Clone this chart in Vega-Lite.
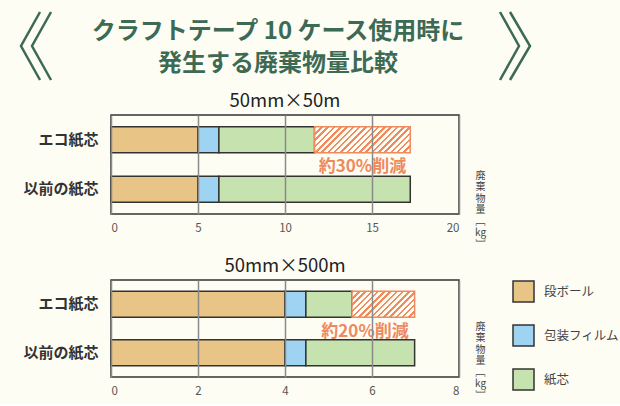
{
  "$schema": "https://vega.github.io/schema/vega-lite/v6.json",
  "background": "#fdfdf4",
  "padding": {"left": 16, "top": 5, "right": 3, "bottom": 3},
  "config": {
    "font": "Noto Sans CJK JP",
    "view": {"stroke": null},
    "axis": {"labelFont": "Noto Sans CJK JP", "titleFont": "Noto Sans CJK JP"},
    "legend": {"labelFont": "Noto Sans CJK JP"}
  },
  "spacing": 5,
  "resolve": {"scale": {"x": "independent", "y": "independent", "color": "shared"}},
  "vconcat": [
    {
      "width": 430,
      "height": 76,
      "view": {"stroke": null},
      "layer": [
        {
          "data": {"values": [
            {"g": "L1", "o": 1, "x": -0.1651, "y": 0.9079}, {"g": "L1", "o": 2, "x": -0.2093, "y": 0.4605}, {"g": "L1", "o": 3, "x": -0.1651, "y": 0.0132},
            {"g": "L2", "o": 1, "x": -0.1395, "y": 0.9079}, {"g": "L2", "o": 2, "x": -0.1837, "y": 0.4605}, {"g": "L2", "o": 3, "x": -0.1395, "y": 0.0132},
            {"g": "R1", "o": 1, "x": 0.9047, "y": 0.9079}, {"g": "R1", "o": 2, "x": 0.9488, "y": 0.4605}, {"g": "R1", "o": 3, "x": 0.9047, "y": 0.0132},
            {"g": "R2", "o": 1, "x": 0.9279, "y": 0.9079}, {"g": "R2", "o": 2, "x": 0.9744, "y": 0.4605}, {"g": "R2", "o": 3, "x": 0.9279, "y": 0.0132}
          ]},
          "mark": {"type": "line", "strokeWidth": 2.5, "color": "#3d6a54", "strokeJoin": "miter"},
          "encoding": {
            "x": {"field": "x", "type": "quantitative", "scale": {"domain": [0, 1], "nice": false, "zero": false}, "axis": null},
            "y": {"field": "y", "type": "quantitative", "scale": {"domain": [0, 1], "nice": false, "zero": false}, "axis": null},
            "detail": {"field": "g"},
            "order": {"field": "o", "type": "quantitative"}
          }
        },
        {
          "data": {"values": [{"x": 0.3884, "y": 0.6447, "t": ["クラフトテープ 10 ケース使用時に", "発生する廃棄物量比較"]}]},
          "mark": {"type": "text", "align": "center", "baseline": "middle", "fontSize": 24, "fontWeight": "bold", "lineHeight": 32, "color": "#3d6a54"},
          "encoding": {
            "x": {"field": "x", "type": "quantitative", "scale": {"domain": [0, 1], "nice": false, "zero": false}, "axis": null},
            "y": {"field": "y", "type": "quantitative", "scale": {"domain": [0, 1], "nice": false, "zero": false}, "axis": null},
            "text": {"field": "t"}
          }
        }
      ]
    },
    {
      "width": 348,
      "height": 99,
      "view": {"stroke": "#333333", "strokeWidth": 1.5},
      "title": {"text": "50mm×50m", "fontSize": 18.5, "fontWeight": "normal", "color": "#222222", "offset": 5},
      "layer": [
        {
          "data": {"values": [
            {"type": "エコ紙芯", "part": "段ボール", "seq": 1, "value": 5.0},
            {"type": "エコ紙芯", "part": "包装フィルム", "seq": 2, "value": 1.2},
            {"type": "エコ紙芯", "part": "紙芯", "seq": 3, "value": 5.5},
            {"type": "以前の紙芯", "part": "段ボール", "seq": 1, "value": 5.0},
            {"type": "以前の紙芯", "part": "包装フィルム", "seq": 2, "value": 1.2},
            {"type": "以前の紙芯", "part": "紙芯", "seq": 3, "value": 11.0}
          ]},
          "mark": {"type": "bar", "height": 26, "stroke": "#333333", "strokeWidth": 1.5},
          "encoding": {
            "y": {"field": "type", "type": "nominal", "sort": ["エコ紙芯", "以前の紙芯"], "scale": {"type": "band", "paddingInner": 0, "paddingOuter": 0},
              "axis": {"title": null, "ticks": false, "domain": false, "labelFontSize": 15, "labelFontWeight": "bold", "labelColor": "#333333", "labelPadding": 13}},
            "x": {"field": "value", "type": "quantitative", "stack": "zero", "scale": {"domain": [0, 20], "nice": false},
              "axis": {"values": [0, 5, 10, 15, 20], "grid": true, "gridColor": "#8a8a8a", "gridWidth": 1.5, "ticks": false, "domain": false, "labelColor": "#555555", "labelFontSize": 11.5, "labelPadding": 8, "zindex": 1,
                "title": ["廃", "棄", "物", "量", "﹇", "kg", "﹈"], "titleFontSize": 10, "titleLineHeight": 11.5, "titleFontWeight": "normal", "titleColor": "#444444", "titleAngle": 0, "titleAlign": "center", "titleBaseline": "top", "titleX": 369, "titleY": -44}},
            "color": {"field": "part", "type": "nominal", "scale": {"domain": ["段ボール", "包装フィルム", "紙芯"], "range": ["#e8c486", "#9fd3f2", "#c6e2ae"]},
              "legend": {"orient": "none", "legendX": 401, "legendY": 275, "title": null, "symbolType": "square", "symbolSize": 441, "symbolStrokeColor": "#333333", "symbolStrokeWidth": 1.5, "symbolOpacity": 1, "rowPadding": 17, "labelFontSize": 12.5, "labelColor": "#444444", "labelOffset": 9, "padding": 0}},
            "order": {"field": "seq", "type": "quantitative"}
          }
        },
        {
          "data": {"values": [{"type": "エコ紙芯", "start": 11.7, "end": 17.2}]},
          "mark": {"type": "bar", "height": 26, "stroke": "#f08a5f", "strokeWidth": 1.5,
            "fill": {"gradient": "linear", "x1": 0, "y1": 0, "x2": 1.226, "y2": 0.333, "stops": [
              {"offset": 0, "color": "#f08a5f"}, {"offset": 0.02, "color": "#f08a5f"}, {"offset": 0.02, "color": "#fdfdf4"}, {"offset": 0.05, "color": "#fdfdf4"},
              {"offset": 0.05, "color": "#f08a5f"}, {"offset": 0.07, "color": "#f08a5f"}, {"offset": 0.07, "color": "#fdfdf4"}, {"offset": 0.1, "color": "#fdfdf4"},
              {"offset": 0.1, "color": "#f08a5f"}, {"offset": 0.12, "color": "#f08a5f"}, {"offset": 0.12, "color": "#fdfdf4"}, {"offset": 0.15, "color": "#fdfdf4"},
              {"offset": 0.15, "color": "#f08a5f"}, {"offset": 0.17, "color": "#f08a5f"}, {"offset": 0.17, "color": "#fdfdf4"}, {"offset": 0.2, "color": "#fdfdf4"},
              {"offset": 0.2, "color": "#f08a5f"}, {"offset": 0.22, "color": "#f08a5f"}, {"offset": 0.22, "color": "#fdfdf4"}, {"offset": 0.25, "color": "#fdfdf4"},
              {"offset": 0.25, "color": "#f08a5f"}, {"offset": 0.27, "color": "#f08a5f"}, {"offset": 0.27, "color": "#fdfdf4"}, {"offset": 0.3, "color": "#fdfdf4"},
              {"offset": 0.3, "color": "#f08a5f"}, {"offset": 0.32, "color": "#f08a5f"}, {"offset": 0.32, "color": "#fdfdf4"}, {"offset": 0.35, "color": "#fdfdf4"},
              {"offset": 0.35, "color": "#f08a5f"}, {"offset": 0.37, "color": "#f08a5f"}, {"offset": 0.37, "color": "#fdfdf4"}, {"offset": 0.4, "color": "#fdfdf4"},
              {"offset": 0.4, "color": "#f08a5f"}, {"offset": 0.42, "color": "#f08a5f"}, {"offset": 0.42, "color": "#fdfdf4"}, {"offset": 0.45, "color": "#fdfdf4"},
              {"offset": 0.45, "color": "#f08a5f"}, {"offset": 0.47, "color": "#f08a5f"}, {"offset": 0.47, "color": "#fdfdf4"}, {"offset": 0.5, "color": "#fdfdf4"},
              {"offset": 0.5, "color": "#f08a5f"}, {"offset": 0.52, "color": "#f08a5f"}, {"offset": 0.52, "color": "#fdfdf4"}, {"offset": 0.55, "color": "#fdfdf4"},
              {"offset": 0.55, "color": "#f08a5f"}, {"offset": 0.57, "color": "#f08a5f"}, {"offset": 0.57, "color": "#fdfdf4"}, {"offset": 0.6, "color": "#fdfdf4"},
              {"offset": 0.6, "color": "#f08a5f"}, {"offset": 0.62, "color": "#f08a5f"}, {"offset": 0.62, "color": "#fdfdf4"}, {"offset": 0.65, "color": "#fdfdf4"},
              {"offset": 0.65, "color": "#f08a5f"}, {"offset": 0.67, "color": "#f08a5f"}, {"offset": 0.67, "color": "#fdfdf4"}, {"offset": 0.7, "color": "#fdfdf4"},
              {"offset": 0.7, "color": "#f08a5f"}, {"offset": 0.72, "color": "#f08a5f"}, {"offset": 0.72, "color": "#fdfdf4"}, {"offset": 0.75, "color": "#fdfdf4"},
              {"offset": 0.75, "color": "#f08a5f"}, {"offset": 0.77, "color": "#f08a5f"}, {"offset": 0.77, "color": "#fdfdf4"}, {"offset": 0.8, "color": "#fdfdf4"},
              {"offset": 0.8, "color": "#f08a5f"}, {"offset": 0.82, "color": "#f08a5f"}, {"offset": 0.82, "color": "#fdfdf4"}, {"offset": 0.85, "color": "#fdfdf4"},
              {"offset": 0.85, "color": "#f08a5f"}, {"offset": 0.87, "color": "#f08a5f"}, {"offset": 0.87, "color": "#fdfdf4"}, {"offset": 0.9, "color": "#fdfdf4"},
              {"offset": 0.9, "color": "#f08a5f"}, {"offset": 0.92, "color": "#f08a5f"}, {"offset": 0.92, "color": "#fdfdf4"}, {"offset": 0.95, "color": "#fdfdf4"},
              {"offset": 0.95, "color": "#f08a5f"}, {"offset": 0.97, "color": "#f08a5f"}, {"offset": 0.97, "color": "#fdfdf4"}, {"offset": 1, "color": "#fdfdf4"}
            ]}},
          "encoding": {
            "y": {"field": "type", "type": "nominal", "sort": ["エコ紙芯", "以前の紙芯"], "scale": {"type": "band", "paddingInner": 0, "paddingOuter": 0}},
            "x": {"field": "start", "type": "quantitative"},
            "x2": {"field": "end"}
          }
        },
        {
          "data": {"values": [{"type": "エコ紙芯", "pos": 14.45, "label": "約30%削減"}]},
          "mark": {"type": "text", "baseline": "middle", "align": "center", "dy": 27, "fontSize": 17, "fontWeight": "bold", "color": "#ee8a60"},
          "encoding": {
            "y": {"field": "type", "type": "nominal", "sort": ["エコ紙芯", "以前の紙芯"], "scale": {"type": "band", "paddingInner": 0, "paddingOuter": 0}},
            "x": {"field": "pos", "type": "quantitative"},
            "text": {"field": "label"}
          }
        }
      ]
    },
    {
      "width": 348,
      "height": 97,
      "view": {"stroke": "#333333", "strokeWidth": 1.5},
      "title": {"text": "50mm×500m", "fontSize": 18.5, "fontWeight": "normal", "color": "#222222", "offset": 5},
      "layer": [
        {
          "data": {"values": [
            {"type": "エコ紙芯", "part": "段ボール", "seq": 1, "value": 4.0},
            {"type": "エコ紙芯", "part": "包装フィルム", "seq": 2, "value": 0.48},
            {"type": "エコ紙芯", "part": "紙芯", "seq": 3, "value": 1.06},
            {"type": "以前の紙芯", "part": "段ボール", "seq": 1, "value": 4.0},
            {"type": "以前の紙芯", "part": "包装フィルム", "seq": 2, "value": 0.48},
            {"type": "以前の紙芯", "part": "紙芯", "seq": 3, "value": 2.5}
          ]},
          "mark": {"type": "bar", "height": 26, "stroke": "#333333", "strokeWidth": 1.5},
          "encoding": {
            "y": {"field": "type", "type": "nominal", "sort": ["エコ紙芯", "以前の紙芯"], "scale": {"type": "band", "paddingInner": 0, "paddingOuter": 0},
              "axis": {"title": null, "ticks": false, "domain": false, "labelFontSize": 15, "labelFontWeight": "bold", "labelColor": "#333333", "labelPadding": 13}},
            "x": {"field": "value", "type": "quantitative", "stack": "zero", "scale": {"domain": [0, 8], "nice": false},
              "axis": {"values": [0, 2, 4, 6, 8], "grid": true, "gridColor": "#8a8a8a", "gridWidth": 1.5, "ticks": false, "domain": false, "labelColor": "#555555", "labelFontSize": 11.5, "labelPadding": 8, "zindex": 1,
                "title": ["廃", "棄", "物", "量", "﹇", "kg", "﹈"], "titleFontSize": 10, "titleLineHeight": 11.5, "titleFontWeight": "normal", "titleColor": "#444444", "titleAngle": 0, "titleAlign": "center", "titleBaseline": "top", "titleX": 369, "titleY": -56}},
            "color": {"field": "part", "type": "nominal", "scale": {"domain": ["段ボール", "包装フィルム", "紙芯"], "range": ["#e8c486", "#9fd3f2", "#c6e2ae"]},
              "legend": {"orient": "none", "legendX": 401, "legendY": 275, "title": null, "symbolType": "square", "symbolSize": 441, "symbolStrokeColor": "#333333", "symbolStrokeWidth": 1.5, "symbolOpacity": 1, "rowPadding": 17, "labelFontSize": 12.5, "labelColor": "#444444", "labelOffset": 9, "padding": 0}},
            "order": {"field": "seq", "type": "quantitative"}
          }
        },
        {
          "data": {"values": [{"type": "エコ紙芯", "start": 5.54, "end": 6.98}]},
          "mark": {"type": "bar", "height": 26, "stroke": "#f08a5f", "strokeWidth": 1.5,
            "fill": {"gradient": "linear", "x1": 0, "y1": 0, "x2": 1.707, "y2": 0.703, "stops": [
              {"offset": 0, "color": "#f08a5f"}, {"offset": 0.02, "color": "#f08a5f"}, {"offset": 0.02, "color": "#fdfdf4"}, {"offset": 0.05, "color": "#fdfdf4"},
              {"offset": 0.05, "color": "#f08a5f"}, {"offset": 0.07, "color": "#f08a5f"}, {"offset": 0.07, "color": "#fdfdf4"}, {"offset": 0.1, "color": "#fdfdf4"},
              {"offset": 0.1, "color": "#f08a5f"}, {"offset": 0.12, "color": "#f08a5f"}, {"offset": 0.12, "color": "#fdfdf4"}, {"offset": 0.15, "color": "#fdfdf4"},
              {"offset": 0.15, "color": "#f08a5f"}, {"offset": 0.17, "color": "#f08a5f"}, {"offset": 0.17, "color": "#fdfdf4"}, {"offset": 0.2, "color": "#fdfdf4"},
              {"offset": 0.2, "color": "#f08a5f"}, {"offset": 0.22, "color": "#f08a5f"}, {"offset": 0.22, "color": "#fdfdf4"}, {"offset": 0.25, "color": "#fdfdf4"},
              {"offset": 0.25, "color": "#f08a5f"}, {"offset": 0.27, "color": "#f08a5f"}, {"offset": 0.27, "color": "#fdfdf4"}, {"offset": 0.3, "color": "#fdfdf4"},
              {"offset": 0.3, "color": "#f08a5f"}, {"offset": 0.32, "color": "#f08a5f"}, {"offset": 0.32, "color": "#fdfdf4"}, {"offset": 0.35, "color": "#fdfdf4"},
              {"offset": 0.35, "color": "#f08a5f"}, {"offset": 0.37, "color": "#f08a5f"}, {"offset": 0.37, "color": "#fdfdf4"}, {"offset": 0.4, "color": "#fdfdf4"},
              {"offset": 0.4, "color": "#f08a5f"}, {"offset": 0.42, "color": "#f08a5f"}, {"offset": 0.42, "color": "#fdfdf4"}, {"offset": 0.45, "color": "#fdfdf4"},
              {"offset": 0.45, "color": "#f08a5f"}, {"offset": 0.47, "color": "#f08a5f"}, {"offset": 0.47, "color": "#fdfdf4"}, {"offset": 0.5, "color": "#fdfdf4"},
              {"offset": 0.5, "color": "#f08a5f"}, {"offset": 0.52, "color": "#f08a5f"}, {"offset": 0.52, "color": "#fdfdf4"}, {"offset": 0.55, "color": "#fdfdf4"},
              {"offset": 0.55, "color": "#f08a5f"}, {"offset": 0.57, "color": "#f08a5f"}, {"offset": 0.57, "color": "#fdfdf4"}, {"offset": 0.6, "color": "#fdfdf4"},
              {"offset": 0.6, "color": "#f08a5f"}, {"offset": 0.62, "color": "#f08a5f"}, {"offset": 0.62, "color": "#fdfdf4"}, {"offset": 0.65, "color": "#fdfdf4"},
              {"offset": 0.65, "color": "#f08a5f"}, {"offset": 0.67, "color": "#f08a5f"}, {"offset": 0.67, "color": "#fdfdf4"}, {"offset": 0.7, "color": "#fdfdf4"},
              {"offset": 0.7, "color": "#f08a5f"}, {"offset": 0.72, "color": "#f08a5f"}, {"offset": 0.72, "color": "#fdfdf4"}, {"offset": 0.75, "color": "#fdfdf4"},
              {"offset": 0.75, "color": "#f08a5f"}, {"offset": 1, "color": "#f08a5f"}
            ]}},
          "encoding": {
            "y": {"field": "type", "type": "nominal", "sort": ["エコ紙芯", "以前の紙芯"], "scale": {"type": "band", "paddingInner": 0, "paddingOuter": 0}},
            "x": {"field": "start", "type": "quantitative"},
            "x2": {"field": "end"}
          }
        },
        {
          "data": {"values": [{"type": "エコ紙芯", "pos": 5.84, "label": "約20%削減"}]},
          "mark": {"type": "text", "baseline": "middle", "align": "center", "dy": 28, "fontSize": 17, "fontWeight": "bold", "color": "#ee8a60"},
          "encoding": {
            "y": {"field": "type", "type": "nominal", "sort": ["エコ紙芯", "以前の紙芯"], "scale": {"type": "band", "paddingInner": 0, "paddingOuter": 0}},
            "x": {"field": "pos", "type": "quantitative"},
            "text": {"field": "label"}
          }
        }
      ]
    }
  ]
}
